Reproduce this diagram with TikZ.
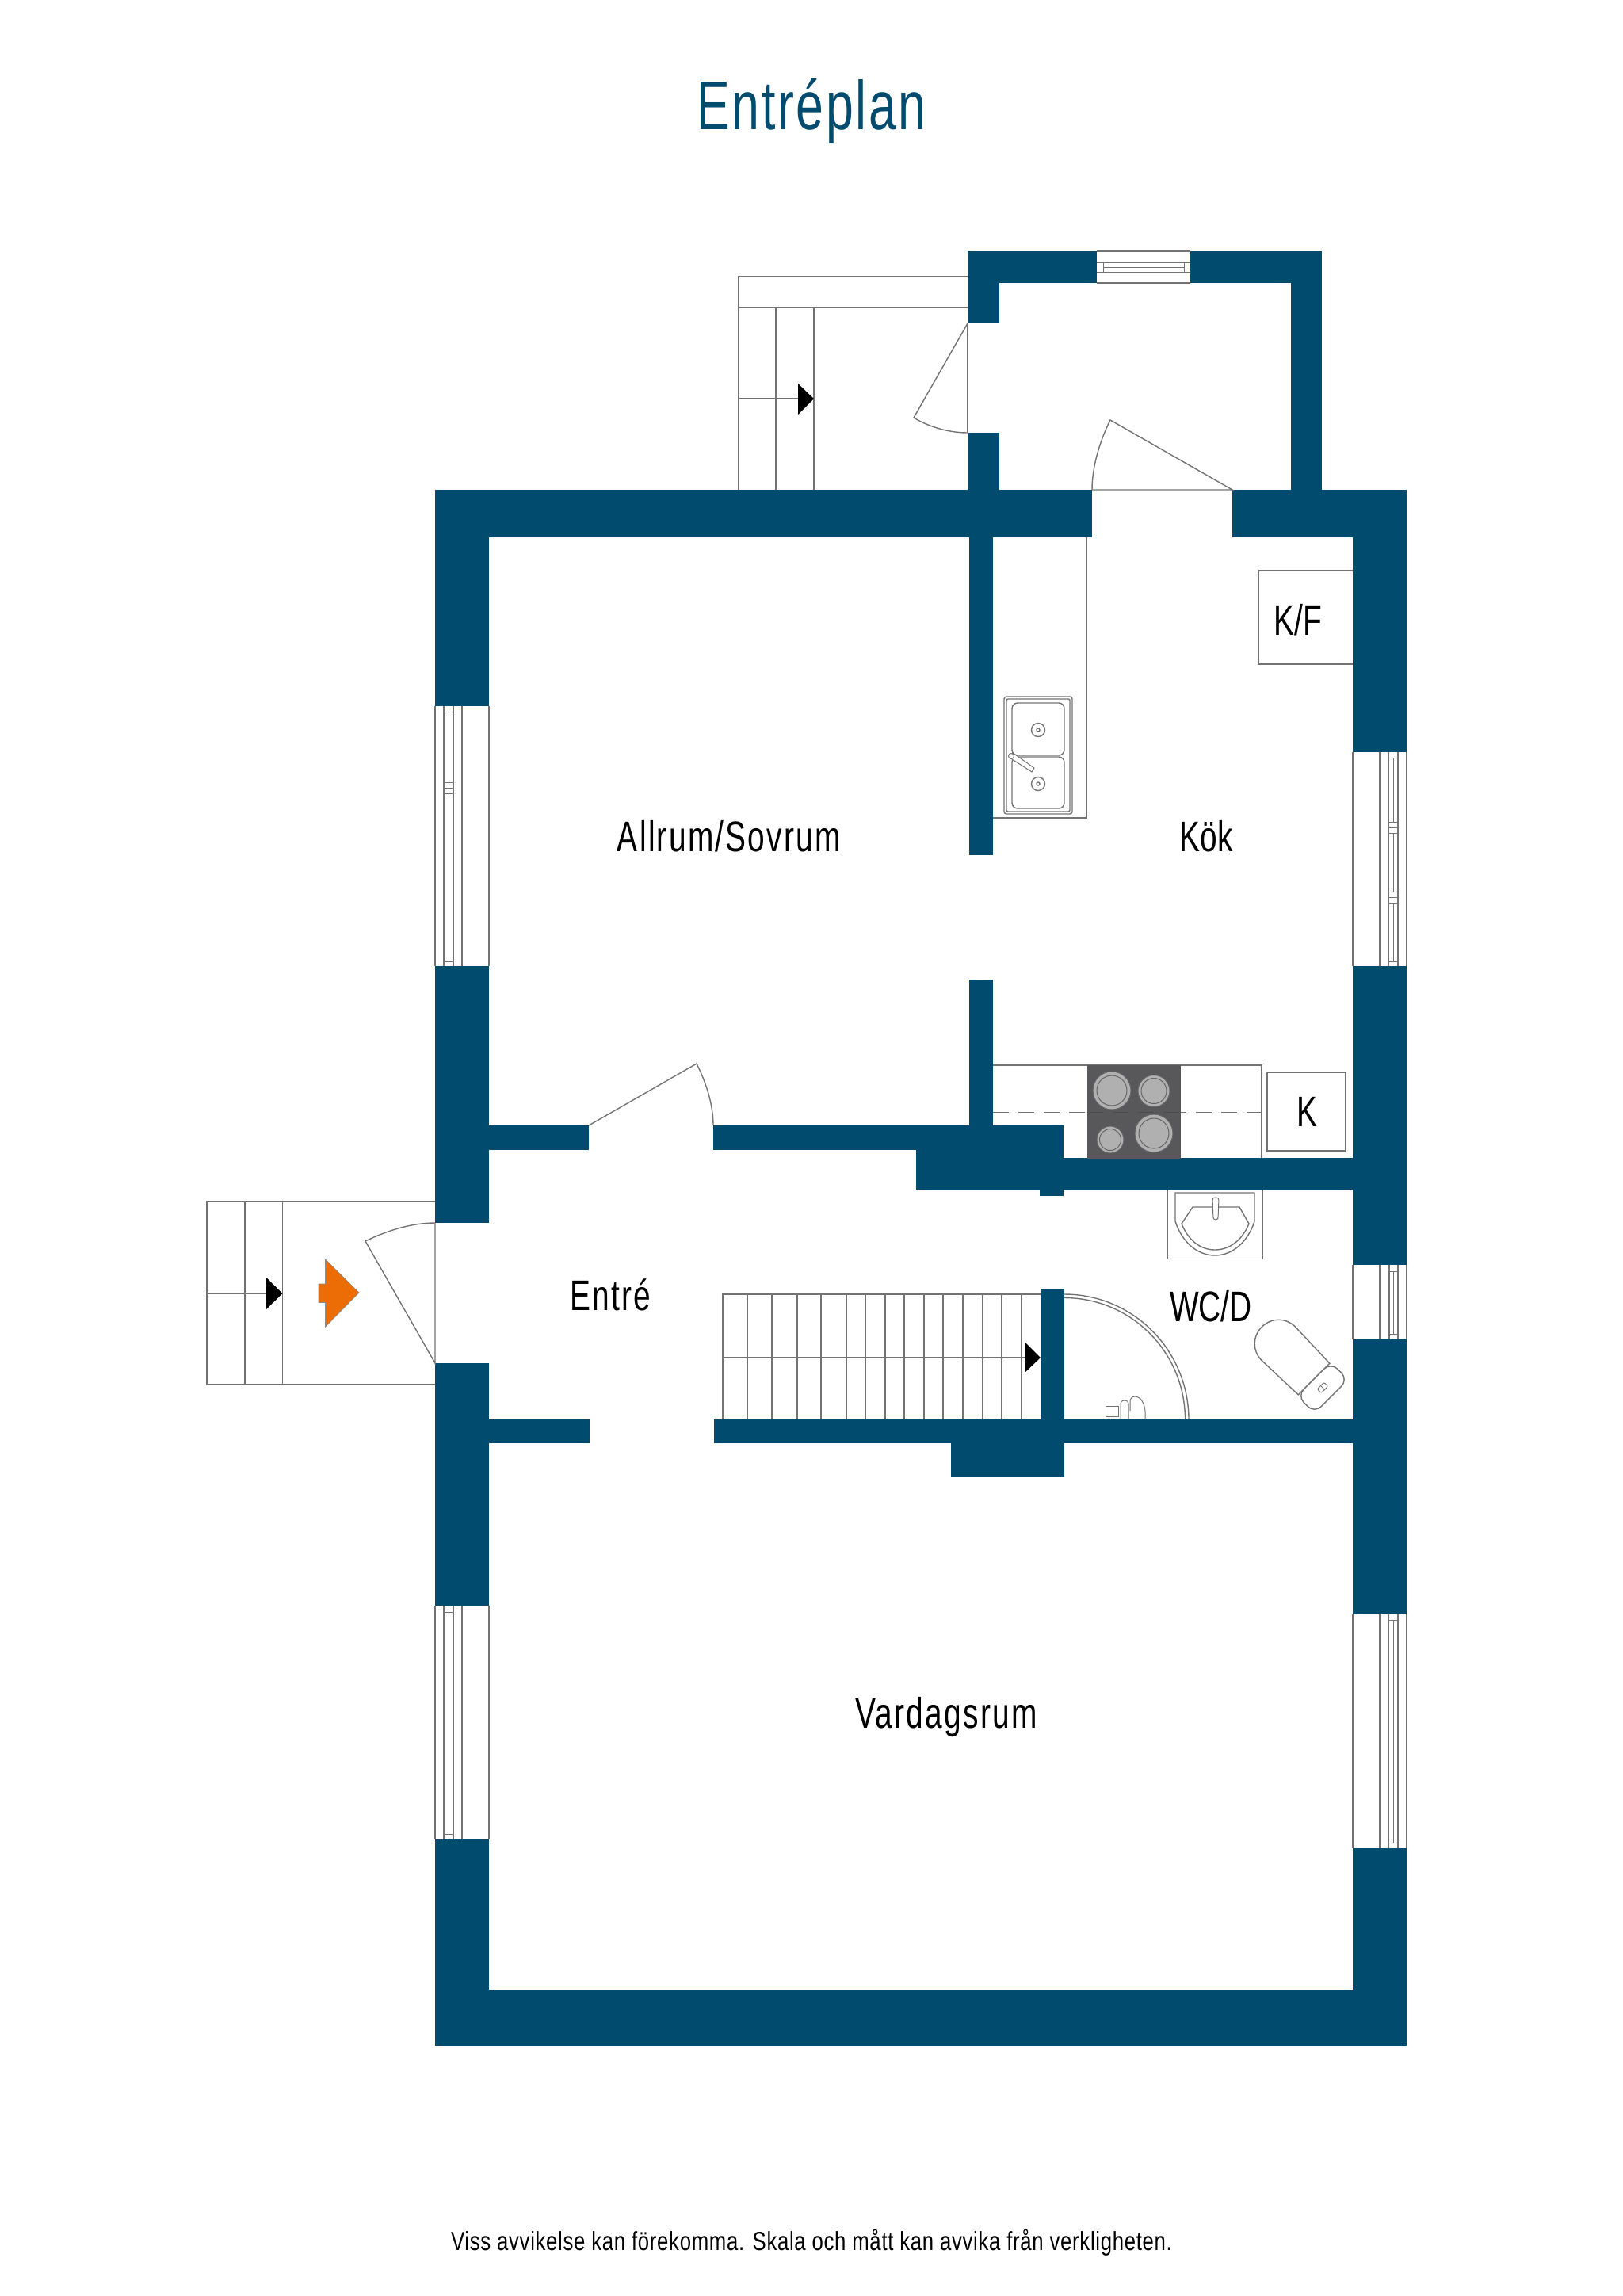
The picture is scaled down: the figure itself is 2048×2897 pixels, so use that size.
\documentclass[tikz,border=0pt]{standalone}
\usepackage{fontspec}
\setmainfont[FakeStretch=0.72]{Liberation Sans}
\newfontfamily\titlefont[FakeStretch=0.72,LetterSpace=3]{Liberation Sans}
\newfontfamily\wordfont[FakeStretch=0.72,LetterSpace=4.2]{Liberation Sans}
\newfontfamily\notefont[FakeStretch=0.78,LetterSpace=2.1]{Liberation Sans}
\definecolor{wallB}{HTML}{004B6E}
\definecolor{orangeE}{HTML}{EC6C05}
\definecolor{plateG}{HTML}{B0B0B0}
\definecolor{stoveG}{HTML}{58585A}
\usetikzlibrary{positioning}

\begin{document}
\begin{tikzpicture}
[x=1pt, y=-1pt,
   wall/.style={fill=wallB},
   lineG/.style={draw=black!55, line width=1.4pt},
   lineF/.style={draw=black!55, line width=1pt},
   tipB/.style={fill=black},
   plateP/.style={draw=black!60, line width=1pt, fill=plateG},
   roomT/.style={anchor=base, font=\fontsize{54}{60}\selectfont, inner sep=0pt},
   wordT/.style={anchor=base, font=\fontsize{54}{60}\selectfont\wordfont, inner sep=0pt}]
\useasboundingbox (0, 0) rectangle (2048, 2897);
\node[anchor=base, inner sep=0pt, text=wallB, font=\fontsize{87}{90}\selectfont\titlefont] (title) at (1024, 163) {Entréplan};
% outer walls
\fill[wall] (549, 618) rectangle (1378, 678);
\fill[wall] (1555, 618) rectangle (1775, 678);
\fill[wall] (549, 618) rectangle (617, 891);
\fill[wall] (549, 1219) rectangle (617, 1543);
\fill[wall] (549, 1720) rectangle (617, 2026);
\fill[wall] (549, 2321) rectangle (617, 2581);
\fill[wall] (549, 2511) rectangle (1775, 2581);
\fill[wall] (1707, 618) rectangle (1775, 949);
\fill[wall] (1707, 1219) rectangle (1775, 1596);
\fill[wall] (1707, 1690) rectangle (1775, 2037);
\fill[wall] (1707, 2332) rectangle (1775, 2581);
% annex walls
\fill[wall] (1221, 317) rectangle (1384, 357);
\fill[wall] (1502, 317) rectangle (1668, 357);
\fill[wall] (1221, 317) rectangle (1261, 408);
\fill[wall] (1221, 546) rectangle (1261, 618);
\fill[wall] (1629, 317) rectangle (1668, 618);
% inner walls
\fill[wall] (1223, 678) rectangle (1253, 1079);
\fill[wall] (1223, 1236) rectangle (1253, 1450);
\fill[wall] (617, 1420) rectangle (743, 1451);
\fill[wall] (900, 1420) rectangle (1342, 1451);
\fill[wall] (1156, 1420) rectangle (1342, 1501);
\fill[wall] (1342, 1461) rectangle (1707, 1501);
\fill[wall] (1312, 1501) rectangle (1342, 1509);
\fill[wall] (617, 1791) rectangle (744, 1821);
\fill[wall] (901, 1791) rectangle (1707, 1821);
\fill[wall] (1200, 1821) rectangle (1343, 1863);
\fill[wall] (1313, 1626) rectangle (1343, 1791);
% annex window
\draw[lineG] (1384, 317) -- (1502, 317) (1384, 357) -- (1502, 357);
\draw[lineG] (1384, 331) -- (1502, 331) (1384, 344) -- (1502, 344);
\draw[lineF] (1392, 331) -- (1392, 344) (1494, 331) -- (1494, 344) (1392, 337) -- (1494, 337);
% left window, upper
\draw[lineG] (549, 891) -- (549, 1219) (617, 891) -- (617, 1219) (583, 891) -- (583, 1219);
\draw[lineG] (560, 891) -- (560, 1219) (572, 891) -- (572, 1219);
\draw[lineF] (566, 898) -- (566, 987) (566, 1001) -- (566, 1213);
\draw[lineF] (560, 898) -- (572, 898) (560, 987) -- (572, 987) (560, 994) -- (572, 994);
\draw[lineF] (560, 1001) -- (572, 1001) (560, 1213) -- (572, 1213);
% left window, lower
\draw[lineG] (549, 2026) -- (549, 2321) (617, 2026) -- (617, 2321) (583, 2026) -- (583, 2321);
\draw[lineG] (560, 2026) -- (560, 2321) (572, 2026) -- (572, 2321);
\draw[lineF] (566, 2034) -- (566, 2314) (560, 2034) -- (572, 2034) (560, 2314) -- (572, 2314);
% right window, kitchen
\draw[lineG] (1707, 949) -- (1707, 1219) (1775, 949) -- (1775, 1219) (1741, 949) -- (1741, 1219);
\draw[lineG] (1752, 949) -- (1752, 1219) (1764, 949) -- (1764, 1219);
\draw[lineF] (1758, 956) -- (1758, 1037) (1758, 1051) -- (1758, 1125) (1758, 1139) -- (1758, 1213);
\draw[lineF] (1752, 956) -- (1764, 956) (1752, 1037) -- (1764, 1037) (1752, 1044) -- (1764, 1044);
\draw[lineF] (1752, 1051) -- (1764, 1051) (1752, 1125) -- (1764, 1125) (1752, 1132) -- (1764, 1132);
\draw[lineF] (1752, 1139) -- (1764, 1139) (1752, 1213) -- (1764, 1213);
% right window, bathroom
\draw[lineG] (1707, 1596) -- (1707, 1690) (1775, 1596) -- (1775, 1690) (1741, 1596) -- (1741, 1690);
\draw[lineG] (1753, 1596) -- (1753, 1690) (1764, 1596) -- (1764, 1690);
\draw[lineF] (1753, 1604) -- (1764, 1604) (1753, 1683) -- (1764, 1683) (1758, 1604) -- (1758, 1683);
% right window, lower
\draw[lineG] (1707, 2037) -- (1707, 2332) (1775, 2037) -- (1775, 2332) (1741, 2037) -- (1741, 2332);
\draw[lineG] (1752, 2037) -- (1752, 2332) (1764, 2037) -- (1764, 2332);
\draw[lineF] (1758, 2044) -- (1758, 2325) (1752, 2044) -- (1764, 2044) (1752, 2325) -- (1764, 2325);
% back steps
\draw[lineG] (1221, 349) -- (932, 349) -- (932, 618);
\draw[lineG] (932, 388) -- (1221, 388);
\draw[lineG] (979, 388) -- (979, 618) (1027, 388) -- (1027, 618);
\draw[lineG] (932, 503) -- (1010, 503);
\fill[tipB] (1007, 484) -- (1027, 503) -- (1007, 523) -- cycle;
% front steps
\draw[lineG] (549, 1516) -- (261, 1516) -- (261, 1747) -- (549, 1747);
\draw[lineG] (309, 1516) -- (309, 1747) (356.5, 1516) -- (356.5, 1747);
\draw[lineG] (261, 1632) -- (338, 1632);
\fill[tipB] (336, 1612) -- (356.5, 1632) -- (336, 1652) -- cycle;
\draw[draw=black!45, fill=orangeE, line width=0.8pt] (453, 1631) -- (410.5, 1589) -- (410.5, 1620) -- (402, 1620) -- (402, 1643.5) -- (410.5, 1643.5) -- (410.5, 1674) -- cycle;
% doors
\draw[lineG] (1221, 408) -- (1221, 546);
\draw[lineG] (1221, 408) -- (1153, 527) .. controls (1171, 538) and (1196, 546) .. (1221, 546);
\draw[lineG] (1378, 618) -- (1555, 618) -- (1401, 530) .. controls (1387, 558) and (1378, 590) .. (1378, 618);
\draw[lineG] (743, 1420) -- (879, 1342) .. controls (892, 1368) and (900, 1395) .. (900, 1420);
\draw[lineG] (549, 1543) -- (549, 1720) -- (461, 1566) .. controls (490, 1552) and (520, 1543) .. (549, 1543);
\draw[lineG] (1343, 1633) .. controls (1430, 1633) and (1500, 1704) .. (1500, 1791);
\draw[lineG] (1343, 1637.5) .. controls (1427, 1637.5) and (1495.5, 1706) .. (1495.5, 1791);
% kitchen bench
\draw[lineG] (1371, 678) -- (1371, 1032) -- (1253, 1032);
\draw[lineG, rounded corners=3pt] (1267, 879) rectangle (1353, 1027);
\draw[lineG, rounded corners=2pt] (1270, 882) rectangle (1350, 1024);
\draw[lineG, rounded corners=7pt] (1277, 887) rectangle (1343, 953);
\draw[lineG, rounded corners=7pt] (1277, 955) rectangle (1343, 1020);
\draw[lineG] (1310, 921) circle (8.5) (1310, 921) circle (2);
\draw[lineG] (1310, 989) circle (8.5) (1310, 989) circle (2);
\draw[lineF, fill=white, line cap=round] (1278, 950) -- (1305, 969) -- (1302, 974) -- (1274, 956) -- cycle;
\draw[lineF, fill=white] (1276, 954) circle (3.5);
\draw[lineG] (1588, 720) -- (1707, 720) (1588, 720) -- (1588, 838) -- (1707, 838);
\draw[lineG] (1253, 1344) -- (1592, 1344) -- (1592, 1461);
\draw[lineF, dash pattern=on 20pt off 12pt] (1253, 1403) -- (1592, 1403);
\fill[stoveG] (1372, 1344) rectangle (1490, 1461.5);
\draw[draw=black!70, line width=1pt, dash pattern=on 20pt off 12pt] (1372, 1403) -- (1490, 1403);
\draw[plateP] (1403, 1376) circle (24) (1403, 1376) circle (19);
\draw[plateP] (1456, 1376.5) circle (20) (1456, 1376.5) circle (16);
\draw[plateP] (1401, 1438) circle (17) (1401, 1438) circle (13.5);
\draw[plateP] (1456, 1430) circle (24) (1456, 1430) circle (19);
\draw[lineG] (1599, 1353.5) rectangle (1698, 1452);
% washbasin
\draw[lineG] (1473.5, 1501) -- (1473.5, 1588.5) -- (1593.5, 1588.5) -- (1593.5, 1501);
\draw[lineG] (1483, 1505) -- (1583, 1505) -- (1583, 1541) .. controls (1575, 1566) and (1556, 1584) .. (1533, 1584) .. controls (1510, 1584) and (1491, 1566) .. (1483, 1541) -- cycle;
\draw[lineG] (1505, 1523) -- (1564, 1523) -- (1576, 1544) .. controls (1568, 1564) and (1552, 1577) .. (1533, 1577) .. controls (1514, 1577) and (1499, 1564) .. (1491, 1544) -- cycle;
\draw[lineF, fill=white, rounded corners=3pt] (1530, 1511) -- (1538, 1511) -- (1537, 1539) -- (1531, 1539) -- cycle;
% toilet
\begin{scope}[shift={(1658, 1740)}, rotate=-45]
\draw[lineG, fill=white] (0, -28) -- (-63, -30) .. controls (-80, -30) and (-93, -17) .. (-93, 0) .. controls (-93, 17) and (-80, 30) .. (-63, 30) -- (0, 28) -- cycle;
\draw[lineG, fill=white, rounded corners=12pt] (0, -30) rectangle (31, 30);
\draw[lineF, rounded corners=2pt] (12, -6) rectangle (19, 6);
\draw[lineF] (12, 0) -- (19, 0);
\end{scope}
% mixer
\draw[lineF, fill=white] (1395, 1774) rectangle (1411, 1787);
\draw[lineF, fill=white, rounded corners=4pt] (1414, 1790) -- (1414, 1767) -- (1424, 1767) -- (1424, 1790);
\draw[lineF, fill=white, rounded corners=6pt] (1426, 1780) -- (1426, 1762) -- (1438, 1762) -- (1445, 1775) -- (1445, 1790);
\draw[lineF] (1402, 1790.5) -- (1445, 1790.5);
% inner stairs
\draw[lineG] (912, 1791) -- (912, 1633) -- (1313, 1633);
\draw[lineG] (912, 1713) -- (1295, 1713);
\draw[lineG] (943, 1633) -- (943, 1791) (974, 1633) -- (974, 1791) (1006, 1633) -- (1006, 1791);
\draw[lineG] (1036, 1633) -- (1036, 1791) (1068, 1633) -- (1068, 1791) (1092, 1633) -- (1092, 1791);
\draw[lineG] (1117, 1633) -- (1117, 1791) (1141, 1633) -- (1141, 1791) (1166, 1633) -- (1166, 1791);
\draw[lineG] (1190, 1633) -- (1190, 1791) (1215, 1633) -- (1215, 1791) (1240, 1633) -- (1240, 1791);
\draw[lineG] (1264, 1633) -- (1264, 1791) (1289, 1633) -- (1289, 1791);
\fill[tipB] (1293, 1693) -- (1313, 1713) -- (1293, 1732) -- cycle;
% labels
\node[wordT] (allrum) at (920, 1074) {Allrum/Sovrum};
\node[roomT] (kok) at (1522, 1074) {Kök};
\node[roomT] (kf) at (1638, 801) {K/F};
\node[roomT] (k) at (1649, 1421.5) {K};
\node[wordT] (entre) at (770, 1653) {Entré};
\node[roomT] (wcd) at (1528, 1667) {WC/D};
\node[wordT] (vardagsrum) at (1194, 2180) {Vardagsrum};
\node[anchor=base, inner sep=0pt, font=\fontsize{33}{36}\selectfont\notefont] (note) at (1024, 2839) {Viss avvikelse kan förekomma. Skala och mått kan avvika från verkligheten.};
\end{tikzpicture}
\end{document}
